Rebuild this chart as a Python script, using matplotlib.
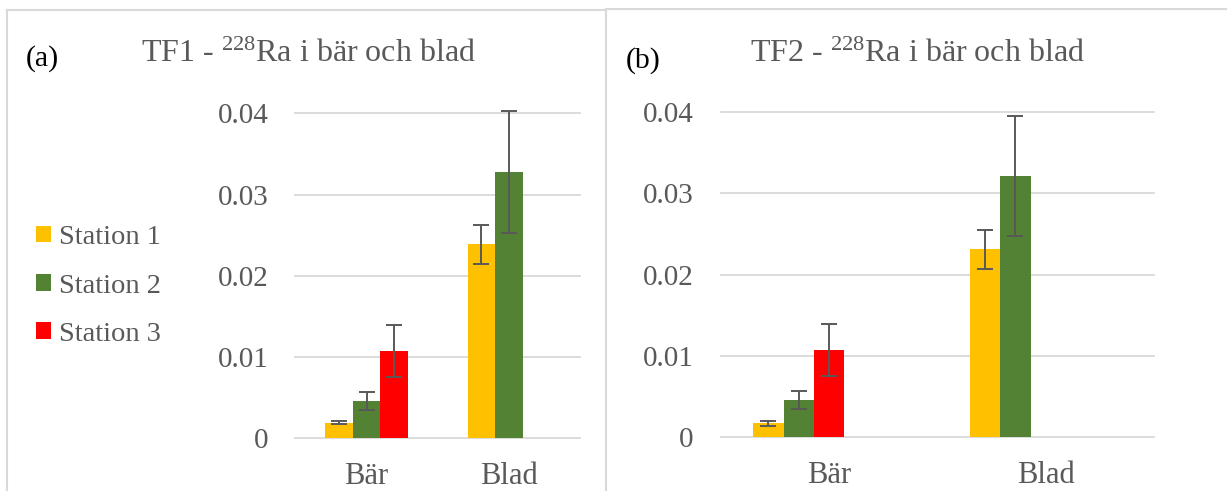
import matplotlib
matplotlib.use('Agg')
import matplotlib.pyplot as plt
import numpy as np
from matplotlib.lines import Line2D
from matplotlib.patches import Patch

plt.rcParams['font.family'] = ['Liberation Serif', 'DejaVu Serif']
plt.rcParams['mathtext.fontset'] = 'custom'
plt.rcParams['mathtext.rm'] = 'Liberation Serif'

kategorier = ['Bär', 'Blad']
serier = ['Station 1', 'Station 2', 'Station 3']
farger = ['#FFC000', '#548235', '#FF0000']
yticks = [0, 0.01, 0.02, 0.03, 0.04]

# TF1 (a)
tf1_varden = [
    [0.0019, 0.0239],
    [0.0046, 0.0328],
    [0.0108, np.nan],
]
tf1_fel = [
    [0.0002, 0.0024],
    [0.0011, 0.0075],
    [0.0032, np.nan],
]

# TF2 (b)
tf2_varden = [
    [0.0017, 0.0231],
    [0.0046, 0.0321],
    [0.0107, np.nan],
]
tf2_fel = [
    [0.00025, 0.0024],
    [0.0011, 0.0074],
    [0.0032, np.nan],
]

W, H = 1227, 491
fig = plt.figure(figsize=(W / 100, H / 100), dpi=100)
grey = '#595959'
ljus = '#D9D9D9'


def rita(rect, varden, fel, n_slots, bredd_tot):
    ax = fig.add_axes(rect)
    x = np.arange(len(kategorier))
    w = bredd_tot / n_slots
    for k, (v, e) in enumerate(zip(varden, fel)):
        off = (k - (n_slots - 1) / 2) * w
        ax.bar(x + off, v, width=w, color=farger[k], zorder=2)
        ax.errorbar(x + off, v, yerr=e, fmt='none', ecolor=grey,
                    elinewidth=1.4, capsize=6, capthick=1.4, zorder=3,
                    clip_on=False)
    ax.set_xlim(-0.5, len(kategorier) - 0.5)
    ax.set_ylim(0, 0.04)
    ax.set_yticks(yticks)
    ax.set_yticklabels(['0' if t == 0 else f'{t:.2f}' for t in yticks])
    ax.set_xticks(x)
    ax.set_xticklabels(kategorier)
    ax.tick_params(axis='y', length=0, pad=19.5, labelsize=21, labelcolor=grey)
    ax.tick_params(axis='x', length=0, pad=17, labelsize=22, labelcolor=grey)
    for s in ax.spines.values():
        s.set_visible(False)
    ax.set_axisbelow(True)
    ax.grid(axis='y', color=ljus, linewidth=1.3)
    for gl in ax.get_ygridlines():
        gl.set_clip_on(False)
    return ax


def fx(px):
    return px / W


def fy(py):
    return 1 - py / H


# vänster panel
rita([fx(295.4), fy(438.3), fx(580 - 295.4), (438.3 - 113.3) / H],
     tf1_varden, tf1_fel, 3, 0.58)
# höger panel
rita([fx(720.7), fy(437.3), fx(1154 - 720.7), (437.3 - 112) / H],
     tf2_varden, tf2_fel, 5, 0.70)

# ramar
for xs, ys in [([6.7, 6.7], [491, 10]), ([6.7, 606], [10, 10]),
               ([606, 606], [10, 491]), ([606, 1227], [9, 9])]:
    fig.add_artist(Line2D([fx(a) for a in xs], [fy(b) for b in ys],
                          color=ljus, linewidth=1.5))

fig.text(fx(308), fy(62), r'TF1 - $\mathregular{^{228}}$Ra i bär och blad',
         ha='center', va='baseline', fontsize=23, color=grey)
fig.text(fx(917), fy(62), r'TF2 - $\mathregular{^{228}}$Ra i bär och blad',
         ha='center', va='baseline', fontsize=23, color=grey)
fig.text(fx(26), fy(59), '(a)', ha='left', va='center', fontsize=21.5,
         color='black')
fig.text(fx(626), fy(61), '(b)', ha='left', va='center', fontsize=21.5,
         color='black')

handles = [Patch(facecolor=c) for c in farger]
leg = fig.legend(handles, serier, loc='center left',
                 bbox_to_anchor=(fx(36), fy(286)), frameon=False,
                 fontsize=20.5, handlelength=0.52, handleheight=0.52,
                 handletextpad=0.3, labelspacing=0.82, borderpad=0,
                 borderaxespad=0)
for t in leg.get_texts():
    t.set_color(grey)

fig.savefig('out.png', dpi=100)
